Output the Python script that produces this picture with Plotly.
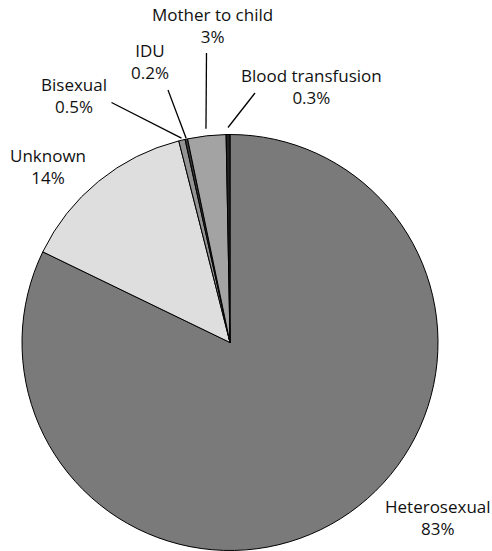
import math
import plotly.graph_objects as go

# ---- data ----
categories = ["Heterosexual", "Unknown", "Bisexual", "IDU", "Mother to child", "Blood transfusion"]
values = [83, 14, 0.5, 0.2, 3, 0.3]
pct_labels = ["83%", "14%", "0.5%", "0.2%", "3%", "0.3%"]
colors = ["#7a7a7a", "#dedede", "#939393", "#3a3a3a", "#a3a3a3", "#222222"]

# ---- layout geometry (pixels) ----
W, H = 492, 551
CX, CY, R = 230, 342.5, 208

# label block centres (px) and leader-line outer ends (px)
label_pos = {
    "Heterosexual": (438, 517),
    "Unknown": (48, 166),
    "Bisexual": (74, 95),
    "IDU": (150, 61),
    "Mother to child": (212, 25),
    "Blood transfusion": (311, 86),
}
leader_outer = {
    "Bisexual": (111.5, 102.5),
    "IDU": (168, 90),
    "Mother to child": (206.5, 53),
    "Blood transfusion": (255, 93),
}
leader_r = {"Bisexual": 210, "IDU": 209, "Mother to child": 215, "Blood transfusion": 215}


def px_to_paper(x, y):
    return x / W, 1 - y / H


fig = go.Figure(
    go.Pie(
        labels=categories,
        values=values,
        sort=False,
        direction="clockwise",
        rotation=0,
        textinfo="none",
        hoverinfo="label+percent",
        marker=dict(colors=colors, line=dict(color="#000000", width=1)),
        showlegend=False,
        domain=dict(x=[(CX - R) / W, (CX + R) / W], y=[(H - CY - R) / H, (H - CY + R) / H]),
    )
)

font = dict(family="Open Sans, Noto Sans, DejaVu Sans", size=17, color="#111111")
annotations = []
for cat, pct in zip(categories, pct_labels):
    lx, ly = label_pos[cat]
    ax, ay = px_to_paper(lx, ly)
    annotations.append(dict(
        x=ax, y=ay, xref="paper", yref="paper",
        text=f"{cat}<br>{pct}", showarrow=False,
        xanchor="center", yanchor="middle", align="center", font=font,
    ))

# leader lines: inner end at the slice mid-angle
total = sum(values)
shapes = []
cum = 0.0
for cat, v in zip(categories, values):
    mid = (cum + v / 2) / total * 2 * math.pi  # clockwise from 12 o'clock
    cum += v
    if cat in leader_outer:
        r = leader_r[cat]
        ix = CX + r * math.sin(mid)
        iy = CY - r * math.cos(mid)
        ox, oy = leader_outer[cat]
        x0, y0 = px_to_paper(ox, oy)
        x1, y1 = px_to_paper(ix, iy)
        shapes.append(dict(type="line", xref="paper", yref="paper",
                           x0=x0, y0=y0, x1=x1, y1=y1,
                           line=dict(color="#000000", width=1.3)))

fig.update_layout(
    width=W, height=H,
    margin=dict(l=0, r=0, t=0, b=0),
    paper_bgcolor="#ffffff",
    plot_bgcolor="#ffffff",
    annotations=annotations,
    shapes=shapes,
)

fig.write_html("out.html", config={"displayModeBar": False},
               post_script="document.body.style.margin='0';")
